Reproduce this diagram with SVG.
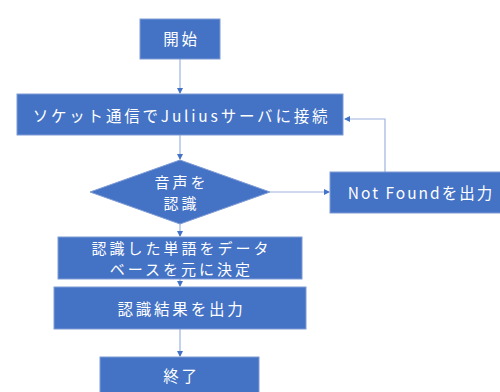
<svg xmlns="http://www.w3.org/2000/svg" width="500" height="392" viewBox="0 0 500 392">
<defs>
<style>
.n{fill:#4472C4;stroke:#7F9BD6;stroke-width:1}
.t{fill:#FFFFFF;font-family:"Noto Sans CJK JP","Noto Sans",sans-serif;font-size:15.5px;text-anchor:middle;dominant-baseline:central;letter-spacing:2.8px}
.s{font-size:15px;letter-spacing:3px}
.c{fill:none;stroke:#9DB4E2;stroke-width:1.2}
</style>
<marker id="a" markerWidth="6" markerHeight="6" refX="5" refY="3" orient="auto" markerUnits="userSpaceOnUse">
<path d="M0,0 L6,3 L0,6 Z" fill="#4472C4"/>
</marker>
</defs>
<rect width="500" height="392" fill="#FFFFFF"/>
<g id="connectors">
<line class="c" x1="180" y1="59" x2="180" y2="93" marker-end="url(#a)"/>
<line class="c" x1="180" y1="135" x2="180" y2="159" marker-end="url(#a)"/>
<line class="c" x1="270" y1="192" x2="329" y2="192" marker-end="url(#a)"/>
<polyline class="c" points="385,172 385,119 345,119" marker-end="url(#a)"/>
<line class="c" x1="180" y1="224" x2="180" y2="236" marker-end="url(#a)"/>
<line class="c" x1="180" y1="279" x2="180" y2="286" marker-end="url(#a)"/>
<line class="c" x1="180" y1="329" x2="180" y2="356" marker-end="url(#a)"/>
</g>
<g id="start">
<rect class="n" x="140" y="19" width="80" height="40"/>
<text class="t" x="181.5" y="38">開始</text>
</g>
<g id="connect">
<rect class="n" x="17" y="94" width="326" height="41"/>
<text class="t" x="181.5" y="115">ソケット通信でJuliusサーバに接続</text>
</g>
<g id="recognize">
<polygon class="n" points="180,160 270,192 180,224 90,192"/>
<text class="t s" x="181.5" y="181.5">音声を</text>
<text class="t s" x="181.5" y="202.5">認識</text>
</g>
<g id="notfound">
<rect class="n" x="330" y="172" width="175" height="41"/>
<text class="t" x="421" y="192" style="letter-spacing:2px">Not Foundを出力</text>
</g>
<g id="decide">
<rect class="n" x="58" y="237" width="244" height="42"/>
<text class="t s" x="181.5" y="247">認識した単語をデータ</text>
<text class="t s" x="181.5" y="268">ベースを元に決定</text>
</g>
<g id="output">
<rect class="n" x="54" y="287" width="252" height="42"/>
<text class="t" x="181.5" y="308">認識結果を出力</text>
</g>
<g id="end">
<rect class="n" x="100" y="357" width="159" height="40"/>
<text class="t" x="181.5" y="375">終了</text>
</g>
</svg>
